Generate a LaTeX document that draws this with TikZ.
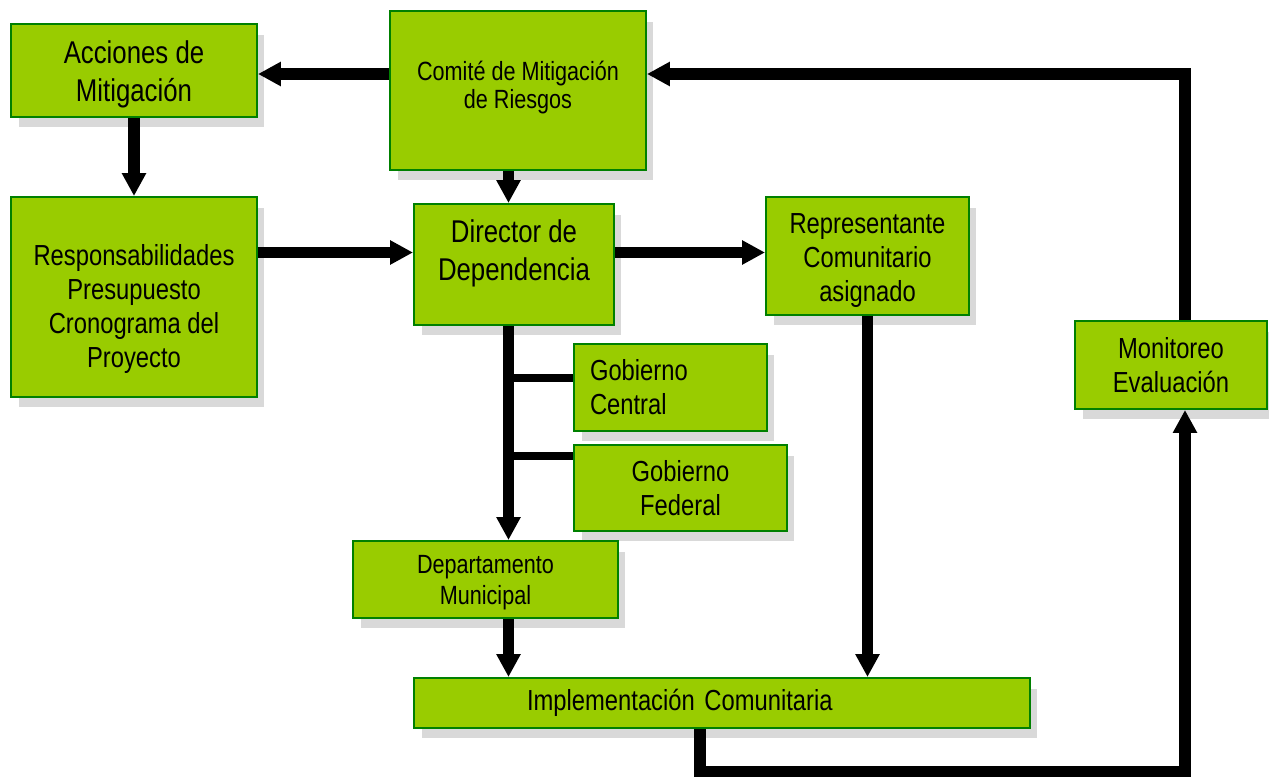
\documentclass[tikz,border=0pt]{standalone}
\usepackage{fontspec}
\setmainfont{Liberation Sans}[FakeStretch=0.82]
\usetikzlibrary{arrows.meta,shadows}

\definecolor{boxfill}{HTML}{99CC00}
\definecolor{boxline}{HTML}{008000}
\definecolor{shade}{HTML}{D9D9D9}

% invisible struts to move a label inside its box
\newcommand{\padtop}[1]{\rule{0pt}{#1}}
\newcommand{\padbot}[1]{\rule[-#1]{0pt}{#1}}

\begin{document}
\begin{tikzpicture}[
  x=0.02cm, y=-0.02cm,
  >={Triangle[length=0.46cm, width=0.46cm]},
  box/.style={draw=boxline, fill=boxfill, line width=0.04cm, align=center, inner sep=0pt,
    drop shadow={shadow xshift=0.15cm, shadow yshift=-0.21cm, fill=shade, opacity=1}},
  big text/.style={font=\fontsize{17.9pt}{21.6pt}\selectfont},
  mid text/.style={font=\fontsize{16.5pt}{19.2pt}\selectfont},
  small text/.style={font=\fontsize{15pt}{16pt}\selectfont},
  flow/.style={line width=0.23cm, ->},
  branch/.style={line width=0.17cm}
  ]
  \useasboundingbox (0,0) rectangle (1269,777);

  % boxes
  \node[box, big text, minimum width=4.92cm, minimum height=1.86cm] (acc) at (134,70.5) {\padtop{0.6cm}Acciones de\\Mitigación};
  \node[box, small text, minimum width=5.12cm, minimum height=3.18cm] (comite) at (518,90.5) {Comité de Mitigación\\de Riesgos\padbot{0.23cm}};
  \node[box, mid text, minimum width=4.92cm, minimum height=4cm] (resp) at (134,297) {\padtop{0.9cm}Responsabilidades\\Presupuesto\\Cronograma del\\Proyecto};
  \node[box, big text, minimum width=4cm, minimum height=2.42cm] (dir) at (514,264.5) {Director de\\Dependencia\padbot{0.58cm}};
  \node[box, mid text, minimum width=4.06cm, minimum height=2.36cm] (rep) at (867.5,256) {\padtop{0.58cm}Representante\\Comunitario\\asignado};
  \node[box, mid text, align=left, text width=3.22cm, inner xsep=0.32cm, minimum height=1.74cm] (gobc) at (670.5,387.5) {Gobierno\\Central};
  \node[box, mid text, minimum width=4.26cm, minimum height=1.72cm] (gobf) at (680.5,488) {Gobierno\\Federal};
  \node[box, small text, minimum width=5.3cm, minimum height=1.54cm, font=\fontsize{15pt}{17.5pt}\selectfont] (dep) at (485.5,579.5) {\padtop{0.5cm}Departamento\\Municipal};
  \node[box, mid text, align=left, text width=7.8cm, inner xsep=2.26cm, minimum height=1cm] (impl) at (722,703) {Implementación Comunitaria};
  \node[box, mid text, minimum width=3.84cm, minimum height=1.76cm] (mon) at (1171,365) {Monitoreo\\Evaluación};

  % guide points for the connectors
  \coordinate (toprow) at (0,74);
  \coordinate (midrow) at (0,252.5);
  \coordinate (spine) at (508.5,0);
  \coordinate (b1) at (508.5,378);
  \coordinate (b2) at (508.5,456);
  \coordinate (bot) at (700,772);
  \coordinate (rcol) at (1185,0);

  % connectors
  \draw[flow] (comite.west |- toprow) -- (acc.east |- toprow);
  \draw[flow] (acc.south) -- (resp.north);
  \draw[flow] (resp.east |- midrow) -- (dir.west |- midrow);
  \draw[flow] (dir.east |- midrow) -- (rep.west |- midrow);
  \draw[flow] (comite.south -| spine) -- (dir.north -| spine);
  \draw[flow] (dir.south -| spine) -- (dep.north -| spine);
  \draw[branch] (b1) -- (gobc.west |- b1);
  \draw[branch] (b2) -- (gobf.west |- b2);
  \draw[flow] (dep.south -| spine) -- (impl.north -| spine);
  \draw[flow] (rep.south) -- (impl.north -| rep.south);
  \draw[flow] (impl.south -| bot) -- (bot) -| (mon.south -| rcol);
  \draw[flow] (mon.north -| rcol) |- (comite.east |- toprow);
\end{tikzpicture}
\end{document}
